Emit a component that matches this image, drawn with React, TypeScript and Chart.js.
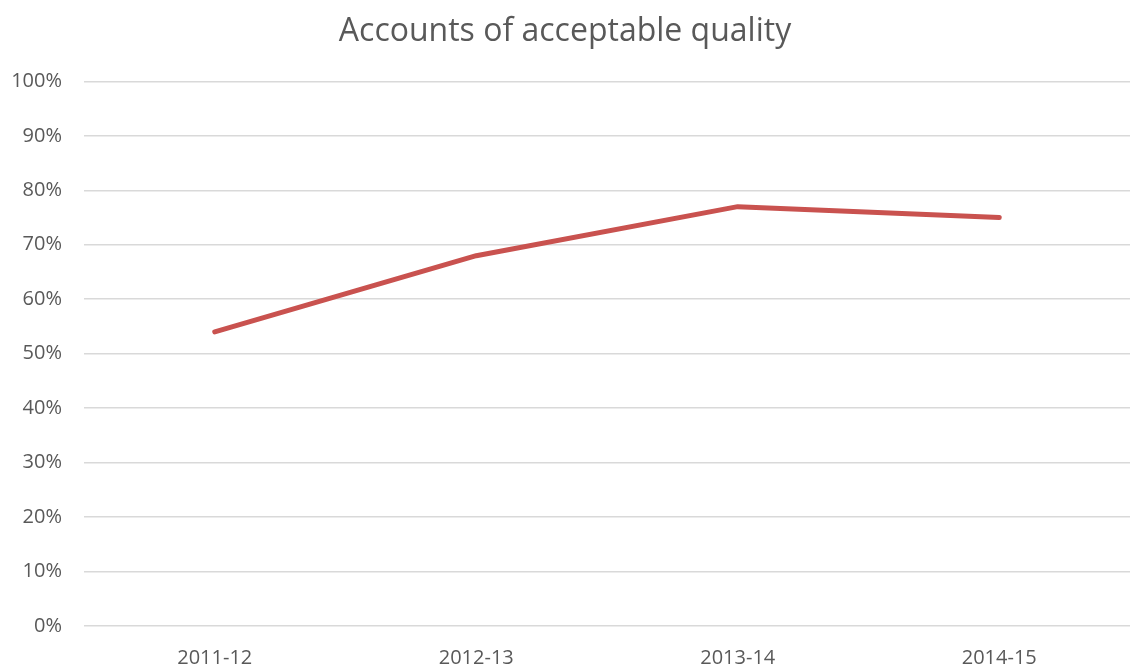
import React, { useEffect, useRef } from "react";
import { Chart, registerables } from "chart.js";

Chart.register(...registerables);

const categories = ["2011-12", "2012-13", "2013-14", "2014-15"];
const values = [54, 68, 77, 75];
const titleText = "Accounts of acceptable quality";

export default function App() {
  const ref = useRef<HTMLCanvasElement | null>(null);
  useEffect(() => {
    document.body.style.margin = "0";
    const ctx = ref.current!;
    const chart = new Chart(ctx, {
      type: "line",
      data: {
        labels: categories,
        datasets: [
          {
            data: values,
            borderColor: "#c9524f",
            borderWidth: 5,
            pointRadius: 0,
            fill: false,
            tension: 0,
            borderCapStyle: "round",
            borderJoinStyle: "round",
          },
        ],
      },
      options: {
        animation: false,
        responsive: false,
        layout: { padding: { left: 0, right: 2, top: 13, bottom: 0 } },
        plugins: {
          legend: { display: false },
          tooltip: { enabled: false },
          title: {
            display: true,
            text: titleText,
            color: "#595959",
            font: { family: "'Open Sans', sans-serif", size: 32, weight: "normal" },
            padding: { top: 0, bottom: 30 },
          },
        },
        scales: {
          x: {
            offset: true,
            afterFit: (scale: any) => {
              scale.height = 41;
            },
            grid: { display: false },
            border: { display: false },
            ticks: {
              color: "#595959",
              font: { family: "'Open Sans', sans-serif", size: 20 },
              padding: 12,
            },
          },
          y: {
            min: 0,
            max: 100,
            afterFit: (scale: any) => {
              scale.width = 84;
            },
            grid: { color: "#d9d9d9", lineWidth: 1.5, drawTicks: false },
            border: { display: false },
            ticks: {
              stepSize: 10,
              color: "#595959",
              padding: 22,
              font: { family: "'Open Sans', sans-serif", size: 20 },
              callback: (v: any) => v + "%",
            },
          },
        },
      },
    });
    return () => chart.destroy();
  }, []);
  return <canvas ref={ref} width={1132} height={667} style={{ display: "block" }} />;
}
